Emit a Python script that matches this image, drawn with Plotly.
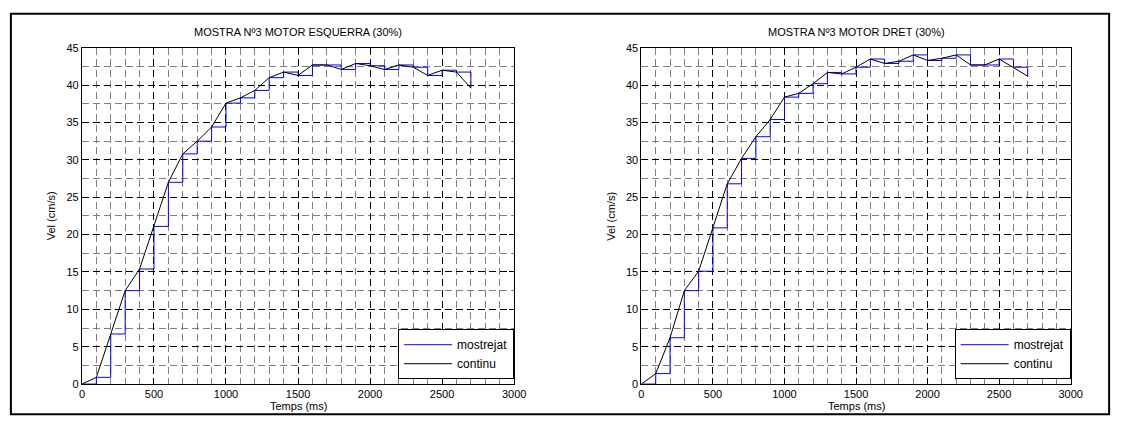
import plotly.graph_objects as go

# Sample instants (ms) and measured speeds (cm/s) for each motor
temps_ms = [0, 100, 200, 300, 400, 500, 600, 700, 800, 900, 1000, 1100, 1200, 1300,
            1400, 1500, 1600, 1700, 1800, 1900, 2000, 2100, 2200, 2300, 2400, 2500,
            2600, 2700]
vel_esquerra = [0, 0.9, 6.7, 12.5, 15.4, 21.1, 27.0, 30.8, 32.5, 34.4, 37.6, 38.3,
                39.3, 41.0, 41.75, 41.3, 42.7, 42.7, 42.1, 42.9, 42.6, 42.1, 42.7,
                42.4, 41.3, 42.0, 41.75, 39.6]
vel_dret = [0, 1.4, 6.2, 12.5, 15.1, 20.9, 26.8, 30.2, 33.1, 35.4, 38.4, 38.9, 40.2,
            41.7, 41.5, 42.4, 43.5, 42.9, 43.2, 44.05, 43.3, 43.6, 44.05, 42.7, 42.7,
            43.5, 42.4, 41.2]

titles = ["MOSTRA Nº3 MOTOR ESQUERRA (30%)", "MOSTRA Nº3 MOTOR DRET (30%)"]
series_names = ["mostrejat", "continu"]
x_label = "Temps (ms)"
y_label = "Vel (cm/s)"

W, H = 1130, 427
FONT = "Liberation Sans, Arial, sans-serif"

# plot areas in pixels: (left, right, top, bottom)
areas = [(80, 518, 43, 389), (647, 1082, 43, 389)]


def px_x(p):
    return p / W


def px_y(p):
    return 1 - p / H


fig = go.Figure()

for i, vel in enumerate([vel_esquerra, vel_dret]):
    n = "" if i == 0 else str(i + 1)
    leg = "legend" if i == 0 else "legend2"
    fig.add_trace(go.Scatter(
        x=temps_ms, y=vel, mode="lines", line=dict(color="#0000ff", width=1, shape="hv"),
        name=series_names[0], xaxis="x" + n, yaxis="y" + n, legend=leg))
    fig.add_trace(go.Scatter(
        x=temps_ms, y=vel, mode="lines", line=dict(color="#000000", width=1),
        name=series_names[1], xaxis="x" + n, yaxis="y" + n, legend=leg))

axis_common = dict(
    showline=True, linecolor="black", linewidth=1, mirror="ticks",
    ticks="inside", ticklen=5, tickcolor="black",
    showgrid=True, gridcolor="black", gridwidth=1.3, griddash="7px,4px",
    zeroline=False, tickfont=dict(family=FONT, size=11, color="black"),
)

layout = dict(
    width=W, height=H, margin=dict(l=0, r=0, t=0, b=0),
    paper_bgcolor="white", plot_bgcolor="white",
    font=dict(family=FONT, size=11, color="black"),
    annotations=[], shapes=[],
)

for i, (l, r, t, b) in enumerate(areas):
    n = "" if i == 0 else str(i + 1)
    layout["xaxis" + n] = dict(
        axis_common, domain=[px_x(l), px_x(r)], range=[0, 3000], dtick=500,
        anchor="y" + n,
        minor=dict(dtick=100, showgrid=True, gridcolor="#7f7f7f", gridwidth=1,
                   griddash="7px,4px", ticks=""),
    )
    layout["yaxis" + n] = dict(
        axis_common, domain=[px_y(b), px_y(t)], range=[0, 45], dtick=5,
        anchor="x" + n,
        minor=dict(dtick=2.5, showgrid=True, gridcolor="#7f7f7f", gridwidth=1,
                   griddash="7px,4px", ticks=""),
    )
    cx = (l + r) / 2
    layout["annotations"] += [
        dict(text=titles[i], x=px_x(cx), y=px_y(27), xref="paper", yref="paper",
             showarrow=False, xanchor="center", yanchor="middle",
             font=dict(family=FONT, size=11)),
        dict(text=x_label, x=px_x(cx), y=px_y(412), xref="paper", yref="paper",
             showarrow=False, xanchor="center", yanchor="middle",
             font=dict(family=FONT, size=11)),
        dict(text=y_label, x=px_x(l - 31), y=px_y((t + b) / 2), xref="paper",
             yref="paper", showarrow=False, textangle=-90, xanchor="center",
             yanchor="middle", font=dict(family=FONT, size=11)),
    ]
    leg = "legend" if i == 0 else "legend2"
    layout[leg] = dict(
        x=px_x(r), y=px_y(384), xanchor="right", yanchor="bottom",
        xref="paper", yref="paper",
        bgcolor="white", bordercolor="black", borderwidth=1,
        font=dict(family=FONT, size=12), tracegroupgap=0, itemwidth=48,
    )

# outer frame around the whole figure
layout["shapes"].append(dict(
    type="rect", xref="paper", yref="paper",
    x0=px_x(8), x1=px_x(1121), y0=px_y(420), y1=px_y(8),
    line=dict(color="black", width=2), fillcolor="rgba(0,0,0,0)", layer="above"))

fig.update_layout(**layout)
fig.write_html("out.html")
